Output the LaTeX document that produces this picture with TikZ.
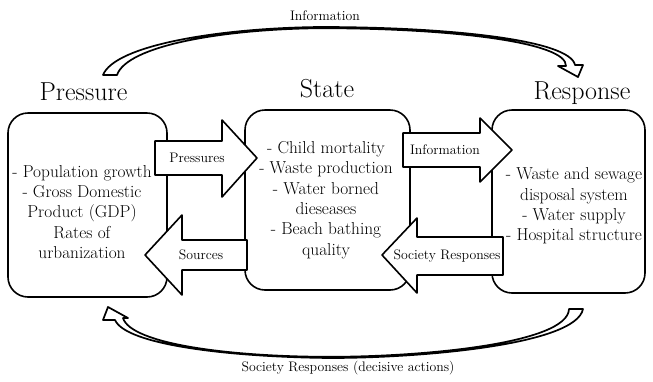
\documentclass[tikz,border=0pt]{standalone}
\begin{document}
\begin{tikzpicture}[x=1pt,y=-1pt,line join=round,
  box/.style={draw,line width=1.6pt,rounded corners=20pt,inner sep=0pt,fill=white},
  body/.style={align=center,inner sep=0pt,font=\fontsize{17.3}{20.3}\selectfont},
  title/.style={anchor=base,inner sep=0pt,font=\fontsize{26}{30}\selectfont},
  lab/.style={inner sep=0pt,font=\fontsize{13.8}{16}\selectfont},
  blockarrow/.style={draw,line width=1.6pt,fill=white},
  curvearrow/.style={draw,line width=1.7pt,fill=white}]
\useasboundingbox (0,0) rectangle (653,381);
% boxes
\node[box,minimum width=159pt,minimum height=184pt] (P) at (87.5,205) {};
\node[box,minimum width=165pt,minimum height=180pt] (S) at (327.5,200) {};
\node[box,minimum width=153pt,minimum height=183pt] (R) at (568.5,201.5) {};
% titles
\node[title] (tP) at (83.5,100) {Pressure};
\node[title] (tS) at (327,97) {State};
\node[title] (tR) at (582,99) {Response};
% body texts
\node[body] (bP) at (82,212) {- Population growth\\- Gross Domestic\\Product (GDP)\\Rates of\\urbanization};
\node[body] (bS) at (326,200) {- Child mortality\\- Waste production\\- Water borned\\dieseases\\- Beach bathing\\quality};
\node[body] (bR) at (574,206) {- Waste and sewage\\disposal system\\- Water supply\\- Hospital structure};
% block arrows
\draw[blockarrow] (155,141) -- (222,141) -- (222,120) -- (257,158) -- (222,197) -- (222,175) -- (155,175) -- cycle;
\node[lab] (lPr) at (197,158) {Pressures};
\draw[blockarrow] (403,133) -- (480,133) -- (480,118) -- (512,150) -- (480,182) -- (480,167) -- (403,167) -- cycle;
\node[lab] (lIn) at (445,150) {Information};
\draw[blockarrow] (247,240) -- (182,240) -- (182,215) -- (145,255) -- (182,295) -- (182,270) -- (247,270) -- cycle;
\node[lab] (lSo) at (201,255) {Sources};
\draw[blockarrow] (503,237) -- (417,237) -- (417,218) -- (382,255) -- (417,293) -- (417,275) -- (503,275) -- cycle;
\node[lab] (lSR) at (447,256) {Society Responses};
% top curved arrow
\draw[curvearrow] (103,75) .. controls (115,45) and (220,28) .. (320,27)
  .. controls (450,27) and (570,40) .. (575,65) -- (583,65) -- (578,77) -- (558,66) -- (566,66)
  .. controls (567,42) and (450,28.2) .. (320,28.2)
  .. controls (221,29.2) and (127,46) .. (117,75) -- cycle;
\node[lab] (lTop) at (325,16) {Information};
% bottom curved arrow
\draw[curvearrow] (583,309) .. controls (576,345) and (420,358) .. (330,358)
  .. controls (230,357) and (126,345) .. (115,320) -- (103,320) -- (108,307) -- (128,318) -- (123,318)
  .. controls (131,344) and (230,356.8) .. (330,356.8)
  .. controls (420,356.8) and (568,344) .. (569,309) -- cycle;
\node[lab] (lBot) at (348,368) {Society Responses (decisive actions)};
\end{tikzpicture}
\end{document}
